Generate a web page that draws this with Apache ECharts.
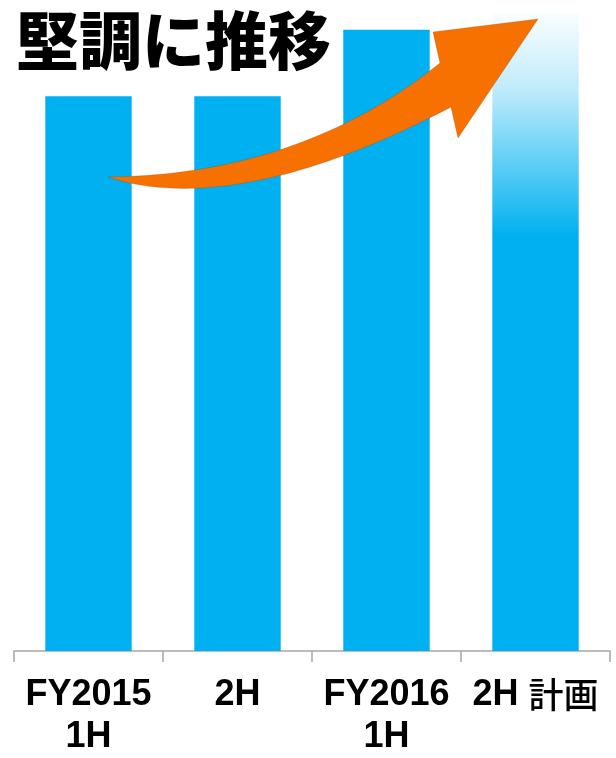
<!DOCTYPE html>
<html>
<head>
<meta charset="utf-8">
<style>
html,body{margin:0;padding:0;background:#fff;}
#chart{width:616px;height:758px;}
</style>
<script src="https://cdn.jsdelivr.net/npm/echarts@6/dist/echarts.min.js"></script>
</head>
<body>
<div id="chart"></div>
<script>
var titleText = '堅調に推移';
var categories = ['FY2015\n1H', '2H', 'FY2016\n1H', '2H 計画'];
var values = [100, 100, 112, 115];
var planIndex = 3;

var chart = echarts.init(document.getElementById('chart'), null, {renderer: 'canvas'});
var BLUE = '#00B0F0';

var seriesData = values.map(function (v, i) {
  if (i === planIndex) {
    return {
      value: v,
      itemStyle: {
        color: {
          type: 'linear', x: 0, y: 0, x2: 0, y2: 1, global: false,
          colorStops: [
            {offset: 0, color: 'rgba(0,176,240,0.02)'},
            {offset: 0.12, color: 'rgba(0,176,240,0.25)'},
            {offset: 0.35, color: 'rgba(0,176,240,1)'},
            {offset: 1, color: 'rgba(0,176,240,1)'}
          ]
        }
      }
    };
  }
  return v;
});

// decorative arrow outline (sampled curves)
function quad(p0, p1, p2, n) {
  var out = [];
  for (var k = 0; k <= n; k++) {
    var t = k / n, u = 1 - t;
    out.push([u*u*p0[0] + 2*u*t*p1[0] + t*t*p2[0], u*u*p0[1] + 2*u*t*p1[1] + t*t*p2[1]]);
  }
  return out;
}
function cubic(p0, p1, p2, p3, n) {
  var out = [];
  for (var k = 0; k <= n; k++) {
    var t = k / n, u = 1 - t;
    out.push([
      u*u*u*p0[0] + 3*u*u*t*p1[0] + 3*u*t*t*p2[0] + t*t*t*p3[0],
      u*u*u*p0[1] + 3*u*u*t*p1[1] + 3*u*t*t*p2[1] + t*t*t*p3[1]
    ]);
  }
  return out;
}
var arrowPts = []
  .concat(quad([108,177],[300,175],[440,63],40))
  .concat([[433,32],[538,19],[458,138]])
  .concat(cubic([451,107],[350,160],[215,212],[108,177],40));

var latinFont = '"Liberation Sans", Arial, "Noto Sans CJK JP", sans-serif';

chart.setOption({
  animation: false,
  backgroundColor: '#ffffff',
  title: {
    text: titleText,
    left: 11,
    top: 4,
    textStyle: {
      fontFamily: '"Noto Sans CJK JP", sans-serif',
      fontSize: 63,
      fontWeight: 900,
      color: '#000000'
    }
  },
  grid: {left: 14, right: 6, top: 13, bottom: 107, containLabel: false},
  xAxis: {
    type: 'category',
    data: categories,
    axisLine: {show: true, lineStyle: {color: '#A6A6A6', width: 1.5}},
    axisTick: {show: true, length: 11, lineStyle: {color: '#A6A6A6', width: 1.5}},
    axisLabel: {
      interval: 0,
      margin: 23,
      fontFamily: latinFont,
      fontSize: 36,
      fontWeight: 'bold',
      lineHeight: 42,
      color: '#000000',
      formatter: function (val) {
        var m = val.match(/^(.*?) ([^\x00-\x7f]+)$/);
        if (m) { return '{b|' + m[1] + ' }{c|' + m[2] + '}'; }
        return val;
      },
      rich: {
        b: {fontFamily: latinFont, fontSize: 36, fontWeight: 'bold', lineHeight: 42, color: '#000'},
        c: {fontFamily: '"Noto Sans CJK JP", sans-serif', fontSize: 35, fontWeight: 500, lineHeight: 42, color: '#000'}
      }
    }
  },
  yAxis: {
    type: 'value',
    min: 0,
    max: 115,
    show: false,
    splitLine: {show: false}
  },
  series: [{
    type: 'bar',
    data: seriesData,
    barWidth: '58%',
    itemStyle: {color: BLUE}
  }],
  graphic: [{
    type: 'polygon',
    z: 100,
    shape: {points: arrowPts},
    style: {fill: '#F77100', stroke: 'rgba(120,80,40,0.35)', lineWidth: 0.8}
  }]
});
</script>
</body>
</html>
